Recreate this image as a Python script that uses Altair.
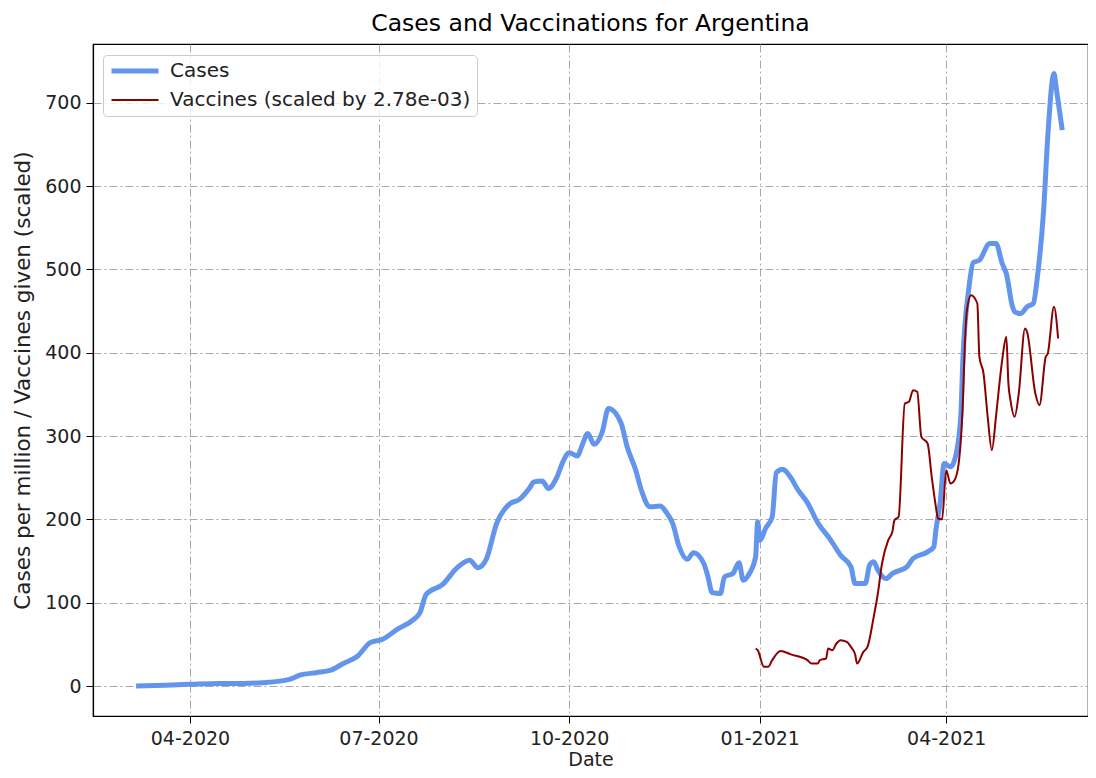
import altair as alt
import pandas as pd

case_dates = [
    "2020-03-06", "2020-03-20", "2020-04-01", "2020-04-15", "2020-04-27", "2020-05-06",
    "2020-05-19", "2020-05-24", "2020-06-01", "2020-06-08", "2020-06-14", "2020-06-21",
    "2020-06-27", "2020-07-03", "2020-07-10", "2020-07-18", "2020-07-21", "2020-07-24",
    "2020-08-01", "2020-08-08", "2020-08-14", "2020-08-18", "2020-08-22", "2020-08-27",
    "2020-09-02", "2020-09-07", "2020-09-12", "2020-09-14", "2020-09-18", "2020-09-21",
    "2020-09-25", "2020-09-28", "2020-10-01", "2020-10-05", "2020-10-07", "2020-10-10",
    "2020-10-13", "2020-10-17", "2020-10-20", "2020-10-26", "2020-10-29", "2020-11-02",
    "2020-11-05", "2020-11-09", "2020-11-14", "2020-11-17", "2020-11-20", "2020-11-23",
    "2020-11-27", "2020-11-30", "2020-12-05", "2020-12-07", "2020-12-09", "2020-12-13",
    "2020-12-15", "2020-12-19", "2020-12-22", "2020-12-24", "2020-12-27", "2020-12-30",
    "2020-12-31", "2021-01-01", "2021-01-04", "2021-01-07", "2021-01-09", "2021-01-12",
    "2021-01-16", "2021-01-19", "2021-01-24", "2021-01-29", "2021-02-04", "2021-02-09",
    "2021-02-14", "2021-02-16", "2021-02-21", "2021-02-23", "2021-02-25", "2021-02-27",
    "2021-03-03", "2021-03-06", "2021-03-13", "2021-03-16", "2021-03-23", "2021-03-26",
    "2021-03-27", "2021-03-29", "2021-03-31", "2021-04-03", "2021-04-05", "2021-04-08",
    "2021-04-09", "2021-04-12", "2021-04-14", "2021-04-17", "2021-04-22", "2021-04-25",
    "2021-04-28", "2021-04-30", "2021-05-03", "2021-05-04", "2021-05-07", "2021-05-10",
    "2021-05-13", "2021-05-15", "2021-05-18", "2021-05-20", "2021-05-23", "2021-05-24",
    "2021-05-27",
]
case_values = [
    0, 1, 2, 3, 3, 4,
    8, 13, 16, 19, 27, 36,
    52, 56, 68, 80, 88, 110,
    122, 142, 151, 142, 152, 195,
    218, 224, 238, 245, 246, 237,
    250, 269, 280, 276, 287, 303,
    290, 305, 333, 316, 287, 260,
    234, 215, 216, 208, 195, 168,
    152, 160, 147, 131, 112, 111,
    131, 135, 148, 127, 135, 155,
    197, 175, 190, 203, 256, 260,
    250, 237, 220, 196, 176, 157,
    143, 123, 123, 145, 149, 139,
    129, 135, 143, 153, 161, 167,
    187, 219, 267, 263, 271, 323,
    390, 479, 508, 511, 531, 531,
    507, 495, 455, 449, 447, 455,
    459, 491, 571, 659, 735, 719,
    667,
]

vacc_dates = [
    "2020-12-30", "2020-12-31", "2021-01-03", "2021-01-05", "2021-01-07", "2021-01-11",
    "2021-01-16", "2021-01-24", "2021-01-26", "2021-01-29", "2021-01-30", "2021-02-02",
    "2021-02-03", "2021-02-05", "2021-02-07", "2021-02-09", "2021-02-12", "2021-02-14",
    "2021-02-16", "2021-02-17", "2021-02-20", "2021-02-22", "2021-02-25", "2021-02-27",
    "2021-03-01", "2021-03-04", "2021-03-06", "2021-03-07", "2021-03-09", "2021-03-12",
    "2021-03-14", "2021-03-16", "2021-03-18", "2021-03-20", "2021-03-23", "2021-03-25",
    "2021-03-27", "2021-03-28", "2021-03-30", "2021-04-01", "2021-04-03", "2021-04-05",
    "2021-04-07", "2021-04-09", "2021-04-10", "2021-04-11", "2021-04-13", "2021-04-16",
    "2021-04-17", "2021-04-19", "2021-04-21", "2021-04-23", "2021-04-25", "2021-04-26",
    "2021-04-28", "2021-04-30", "2021-05-01", "2021-05-02", "2021-05-04", "2021-05-06",
    "2021-05-09", "2021-05-10", "2021-05-14", "2021-05-16", "2021-05-19", "2021-05-20",
    "2021-05-23", "2021-05-25",
]
vacc_values = [
    45, 43, 23, 23, 31, 42,
    38, 31, 27, 27, 31, 33,
    45, 43, 51, 55, 53, 47,
    38, 27, 41, 47, 83, 111,
    147, 175, 185, 199, 203, 339,
    341, 355, 353, 299, 291, 251,
    215, 201, 200, 259, 243, 247,
    267, 339, 411, 451, 469, 459,
    395, 375, 323, 283, 323, 347,
    391, 419, 363, 343, 323, 351,
    429, 425, 351, 337, 395, 399,
    455, 417,
]

series_names = ["Cases", "Vaccines (scaled by 2.78e-03)"]
series_colors = ["#6495ED", "#8B0000"]
series_widths = [5, 2]
y_ticks = [0, 100, 200, 300, 400, 500, 600, 700]

cases_df = pd.DataFrame({"date": case_dates, "value": case_values, "series": series_names[0]})
vacc_df = pd.DataFrame({"date": vacc_dates, "value": vacc_values, "series": series_names[1]})

FONT = "DejaVu Sans"

x_enc = alt.X(
    "date:T",
    title="Date",
    scale=alt.Scale(
        type="utc",
        domain=[
            alt.DateTime(year=2020, month=2, date=14, hours=5, utc=True),
            alt.DateTime(year=2021, month=6, date=8, hours=10, utc=True),
        ],
    ),
    axis=alt.Axis(
        values=[
            alt.DateTime(year=2020, month=4, date=1, utc=True),
            alt.DateTime(year=2020, month=7, date=1, utc=True),
            alt.DateTime(year=2020, month=10, date=1, utc=True),
            alt.DateTime(year=2021, month=1, date=1, utc=True),
            alt.DateTime(year=2021, month=4, date=1, utc=True),
        ],
        format="%m-%Y",
        labelPadding=6,
        titlePadding=2,
    ),
)
y_enc = alt.Y(
    "value:Q",
    title="Cases per million / Vaccines given (scaled)",
    scale=alt.Scale(domain=[-36, 770.4], nice=False, zero=False),
    axis=alt.Axis(values=y_ticks, labelPadding=5, titlePadding=10, titleFontSize=21.5),
)

legend_kw = dict(
    orient="none",
    legendX=10,
    legendY=11,
    title=None,
    symbolType="stroke",
    symbolSize=2209,
    clipHeight=20,
    rowPadding=9,
    labelOffset=9,
    labelFontSize=20,
    labelFont=FONT,
    labelColor="#222222",
    labelLimit=500,
    padding=6,
    fillColor="rgba(255,255,255,0.8)",
    strokeColor="#cccccc",
    cornerRadius=4,
)

color_enc = alt.Color(
    "series:N",
    scale=alt.Scale(domain=series_names, range=series_colors),
    legend=alt.Legend(**legend_kw),
)
width_enc = alt.StrokeWidth(
    "series:N",
    scale=alt.Scale(domain=series_names, range=series_widths),
    legend=alt.Legend(**legend_kw),
)

cases_line = alt.Chart(cases_df).mark_line(
    strokeJoin="round", strokeCap="butt", interpolate="monotone"
).encode(x=x_enc, y=y_enc, color=color_enc, strokeWidth=width_enc)
vacc_line = alt.Chart(vacc_df).mark_line(
    strokeJoin="round", strokeCap="butt", interpolate="monotone"
).encode(x=x_enc, y=y_enc, color=color_enc, strokeWidth=width_enc)

chart = (
    alt.layer(cases_line, vacc_line)
    .properties(
        width=995,
        height=672,
        autosize=alt.AutoSizeParams(type="none"),
        padding={"left": 85, "top": 36, "right": 0, "bottom": 54},
        title=alt.TitleParams(
            "Cases and Vaccinations for Argentina",
            fontSize=23.5,
            font=FONT,
            fontWeight="normal",
            color="black",
            anchor="middle",
            frame="group",
            baseline="bottom",
            offset=7,
            dy=22,
        ),
    )
    .configure(font=FONT)
    .configure_view(stroke="black", strokeWidth=1.2)
    .configure_axis(
        labelFont=FONT,
        labelFontSize=19,
        labelColor="#222222",
        titleFont=FONT,
        titleFontSize=19,
        titleFontWeight="normal",
        titleColor="#222222",
        domainColor="black",
        domainWidth=1.2,
        tickColor="black",
        tickSize=7,
        tickWidth=1,
        grid=True,
        gridColor="#a8a8a8",
        gridWidth=1,
        gridDash=[8, 3, 2, 3],
    )
)

chart.save("out.html", embed_options={"renderer": "svg", "actions": False})
